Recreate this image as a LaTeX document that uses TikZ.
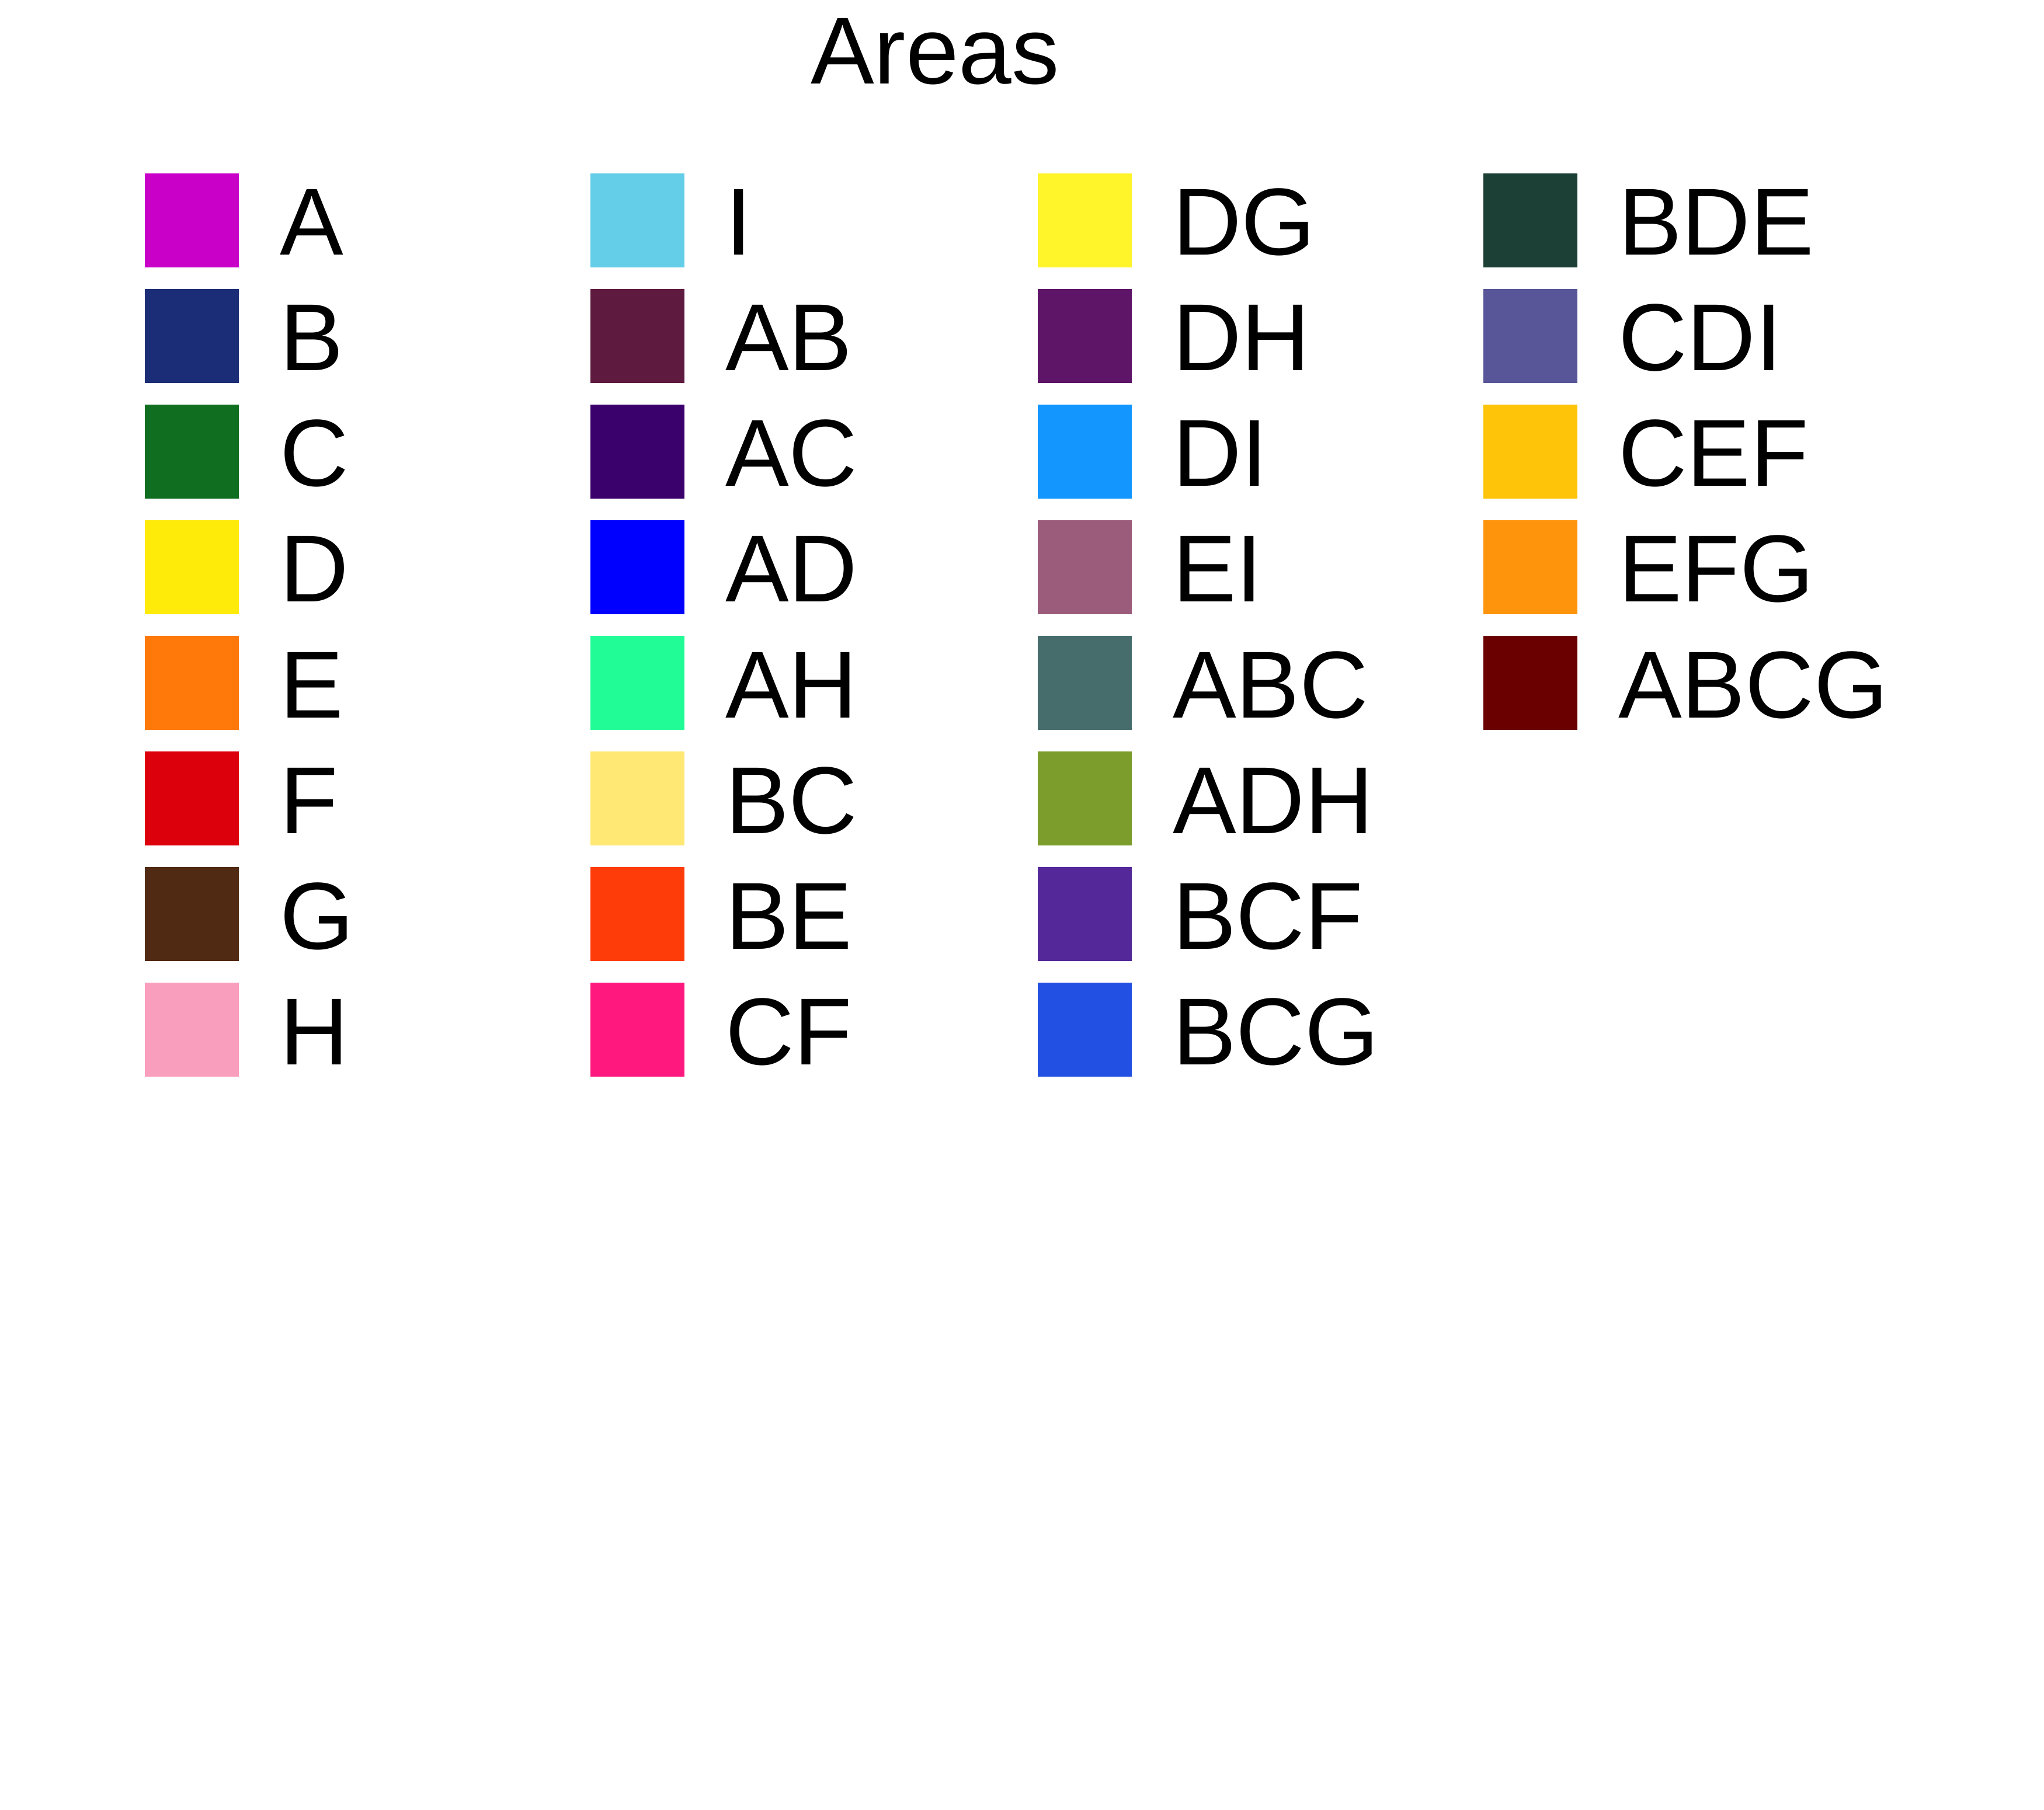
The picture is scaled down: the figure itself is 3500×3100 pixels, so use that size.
\documentclass[tikz,border=0pt]{standalone}
\usepackage{fontspec}
\setmainfont{Liberation Sans}
\definecolor{cA}{HTML}{C800C8}
\definecolor{cB}{HTML}{1C2D78}
\definecolor{cC}{HTML}{106E20}
\definecolor{cD}{HTML}{FFEB0A}
\definecolor{cE}{HTML}{FF780A}
\definecolor{cF}{HTML}{DC000C}
\definecolor{cG}{HTML}{502A12}
\definecolor{cH}{HTML}{FA9EBE}
\definecolor{cI}{HTML}{64CDE8}
\definecolor{cAB}{HTML}{5F1A40}
\definecolor{cAC}{HTML}{3A006C}
\definecolor{cAD}{HTML}{0000FF}
\definecolor{cAH}{HTML}{22FC96}
\definecolor{cBC}{HTML}{FFE974}
\definecolor{cBE}{HTML}{FE3C0A}
\definecolor{cCF}{HTML}{FF197F}
\definecolor{cDG}{HTML}{FFF52A}
\definecolor{cDH}{HTML}{5E1568}
\definecolor{cDI}{HTML}{1496FF}
\definecolor{cEI}{HTML}{9A5C7A}
\definecolor{cABC}{HTML}{466C6C}
\definecolor{cADH}{HTML}{7C9C2C}
\definecolor{cBCF}{HTML}{55289A}
\definecolor{cBCG}{HTML}{2250E2}
\definecolor{cBDE}{HTML}{1C3F36}
\definecolor{cCDI}{HTML}{585598}
\definecolor{cCEF}{HTML}{FDC40A}
\definecolor{cEFG}{HTML}{FE940C}
\definecolor{cABCG}{HTML}{6A0000}
\begin{document}
\begin{tikzpicture}[x=0.2pt,y=-0.2pt,
  swatch/.style={anchor=north west, inner sep=0pt, outer sep=0pt, minimum size=32.2pt, draw=none},
  lab/.style={anchor=base west, inner sep=0pt, font=\fontsize{32.6}{39}\selectfont}]
\fill[white] (0,0) rectangle (3500,3100);
\node[anchor=base, inner sep=0pt, font=\fontsize{32.6}{39}\selectfont] (title) at (1601,144) {Areas};
\foreach \lab [count=\i from 0] in {A,B,C,D,E,F,G,H} {
  \node[swatch, fill=c\lab] (s\lab) at (248,{297+198*\i}) {};
  \node[lab] (t\lab) at (478,{437+198*\i}) {\lab};
}
\foreach \lab [count=\i from 0] in {I,AB,AC,AD,AH,BC,BE,CF} {
  \node[swatch, fill=c\lab] (s\lab) at (1011,{297+198*\i}) {};
  \node[lab] (t\lab) at (1241,{437+198*\i}) {\lab};
}
\foreach \lab [count=\i from 0] in {DG,DH,DI,EI,ABC,ADH,BCF,BCG} {
  \node[swatch, fill=c\lab] (s\lab) at (1777,{297+198*\i}) {};
  \node[lab] (t\lab) at (2007,{437+198*\i}) {\lab};
}
\foreach \lab [count=\i from 0] in {BDE,CDI,CEF,EFG,ABCG} {
  \node[swatch, fill=c\lab] (s\lab) at (2540,{297+198*\i}) {};
  \node[lab] (t\lab) at (2770,{437+198*\i}) {\lab};
}
\end{tikzpicture}
\end{document}
